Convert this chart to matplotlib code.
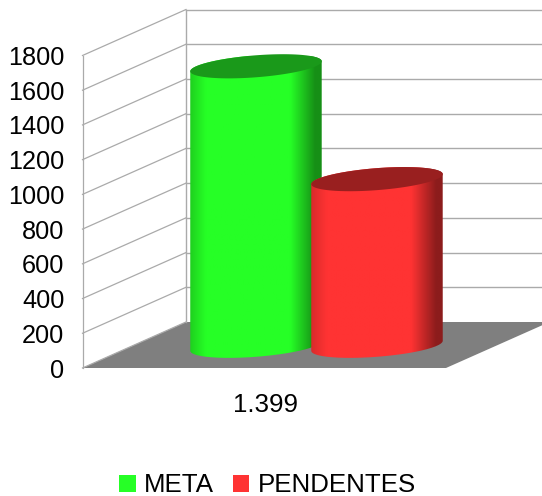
import numpy as np
import matplotlib
matplotlib.use("Agg")
import matplotlib.pyplot as plt
from matplotlib.patches import PathPatch, Patch, Polygon
from matplotlib.path import Path
from matplotlib.colors import LinearSegmentedColormap

plt.rcParams['font.family'] = ['Liberation Sans', 'DejaVu Sans']

# ---- data ----
category = "1.399"
series_names = ["META", "PENDENTES"]
series_values = [1610, 960]
y_ticks = [0, 200, 400, 600, 800, 1000, 1200, 1400, 1600, 1800]
colors = ["#26ff26", "#ff3333"]
top_colors = ["#1a991a", "#991f1f"]
side_colors = ["#168f16", "#8c1c1c"]
left_colors = ["#1fd01f", "#d92b2b"]

W, H = 542, 496
fig = plt.figure(figsize=(W / 100, H / 100), dpi=100, facecolor="white")
L, R, B, T = 82.5, 446.0, 368.0, 55.5
ax = fig.add_axes([L / W, (H - B) / H, (R - L) / W, (B - T) / H])
ax.patch.set_visible(False)

SLOT = 121.0
CENTER0 = 256.0
xlim = ((L - CENTER0) / SLOT, (R - CENTER0) / SLOT)
ylim = (0, 1800)
UY = 1800 / (B - T)              # value units per px
DX, DY = 103.5 / SLOT, 46 * UY   # depth of the 3-D box in data units
grid = "#aaaaaa"

# floor
ax.add_patch(Polygon([(xlim[0], 0), (xlim[0] + DX, DY), (xlim[1] + DX, DY), (xlim[1], 0)],
                     closed=True, fc="#7f7f7f", ec="none", clip_on=False, zorder=1))
# walls
for v in y_ticks:
    ax.plot([xlim[0], xlim[0] + DX], [v, v + DY], color=grid, lw=0.9, clip_on=False, zorder=2)
    if v > 0:
        ax.plot([xlim[0] + DX, xlim[1] + DX], [v + DY, v + DY], color=grid, lw=1.0,
                clip_on=False, zorder=2)
ax.plot([xlim[0], xlim[0]], [0, 1800], color=grid, lw=0.9, clip_on=False, zorder=2)
ax.plot([xlim[0] + DX, xlim[0] + DX], [DY, 1800 + DY], color=grid, lw=1.0, clip_on=False, zorder=2)

# cylinders
A = 65.75 / SLOT       # half width
BB = 11 * UY           # minor half-height
S = 5 * UY             # tilt
BASE = 22.2 * UY       # cylinder base centre above the front edge


def ell(cx, cy, t):
    return cx + A * np.cos(t), cy + BB * np.sin(t) + S * np.cos(t)


for i, (val, c, tc, sc, lc) in enumerate(zip(series_values, colors, top_colors, side_colors, left_colors)):
    z = 5 + i
    t_low = np.linspace(np.pi, 2 * np.pi, 80)
    xb, yb = ell(i, BASE, t_low)
    top_t = np.linspace(0, np.pi, 80)
    xt, yt = ell(i, BASE + val, top_t)
    verts = np.vstack([np.column_stack([xb, yb]), np.column_stack([xt, yt]), [[xb[0], yb[0]]]])
    clip = PathPatch(Path(verts), fc="none", ec="none", transform=ax.transData)
    ax.add_patch(clip)
    cmap = LinearSegmentedColormap.from_list(
        "c%d" % i, [(0, lc), (0.12, c), (0.76, c), (0.95, sc), (1, sc)])
    im = ax.imshow(np.linspace(0, 1, 256)[None, :], cmap=cmap, aspect="auto", vmin=0, vmax=1,
                   extent=(i - A, i + A, 0, BASE + val + 100), zorder=z, interpolation="bilinear")
    im.set_clip_path(clip)
    t_full = np.linspace(0, 2 * np.pi, 160)
    xe, ye = ell(i, BASE + val, t_full)
    ax.add_patch(Polygon(np.column_stack([xe, ye]), closed=True, fc=tc, ec="none",
                         clip_on=False, zorder=z + 0.5))

ax.set_xlim(xlim)
ax.set_ylim(ylim)
for s in ax.spines.values():
    s.set_visible(False)
ax.set_yticks(y_ticks)
ax.set_yticklabels([str(v) for v in y_ticks], fontsize=18.2, color="black")
ax.tick_params(axis="y", length=0, pad=13)
ax.set_xticks([(xlim[0] + xlim[1]) / 2 + 1.5 / SLOT])
ax.set_xticklabels([category], fontsize=18.6, color="black")
ax.tick_params(axis="x", length=0, pad=18)

handles = [Patch(fc=c, ec="none", label=n) for c, n in zip(colors, series_names)]
fig.legend(handles=handles, loc="center", bbox_to_anchor=(267.5 / W, (H - 485.5) / H),
           ncol=2, frameon=False, fontsize=18.6, handlelength=0.64, handleheight=0.64,
           handletextpad=0.33, columnspacing=0.71, borderpad=0, borderaxespad=0)

fig.savefig("out.png", dpi=100, facecolor="white")
